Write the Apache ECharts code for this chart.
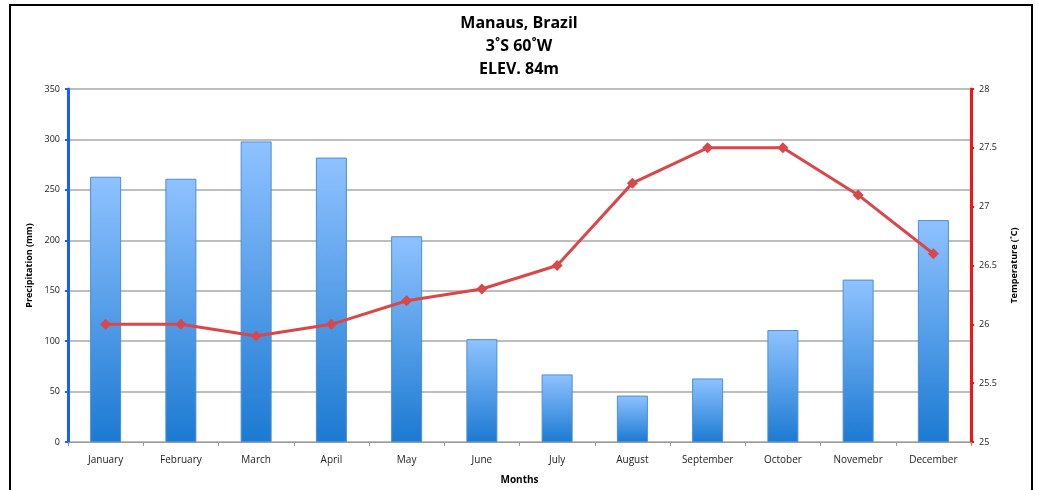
<!DOCTYPE html>
<html>
<head>
<meta charset="utf-8">
<script src="https://cdn.jsdelivr.net/npm/echarts@6/dist/echarts.min.js"></script>
<style>
  html, body { margin: 0; padding: 0; background: #fff; }
  #chart { width: 1038px; height: 490px; }
</style>
</head>
<body>
<div id="chart"></div>
<script>
var months = ["January", "February", "March", "April", "May", "June", "July", "August", "September", "October", "Novemebr", "December"];
var precipitation = [263, 261, 298, 282, 204, 102, 67, 46, 63, 111, 161, 220];
var temperature = [26.0, 26.0, 25.9, 26.0, 26.2, 26.3, 26.5, 27.2, 27.5, 27.5, 27.1, 26.6];
var titleLines = ["Manaus, Brazil", "3˚S 60˚W", "ELEV. 84m"];

var myChart = echarts.init(document.getElementById("chart"));
var labelFont = "'Liberation Sans Narrow', 'Open Sans', sans-serif";

var option = {
  animation: false,
  graphic: [
    {
      type: "rect",
      shape: { x: 10, y: 5, width: 1022, height: 490 },
      style: { fill: "none", stroke: "#000", lineWidth: 2 }
    }
  ],
  title: {
    text: titleLines.join("\n"),
    left: "center",
    top: 7,
    textStyle: {
      fontFamily: labelFont,
      fontWeight: "bold",
      fontSize: 16,
      lineHeight: 23,
      color: "#000"
    }
  },
  grid: { left: 68, right: 67, top: 89, bottom: 48, outerBoundsMode: "none" },
  xAxis: {
    type: "category",
    data: months,
    name: "Months",
    nameLocation: "middle",
    nameGap: 33,
    nameTextStyle: { fontFamily: labelFont, fontWeight: "bold", fontSize: 10, color: "#000" },
    axisLine: { lineStyle: { color: "#999", width: 1 } },
    axisTick: { show: true, length: 4, lineStyle: { color: "#999" } },
    axisLabel: { fontFamily: labelFont, fontSize: 10, color: "#222", margin: 13 }
  },
  yAxis: [
    {
      type: "value",
      min: 0,
      max: 350,
      interval: 50,
      name: "Precipitation (mm)",
      nameLocation: "middle",
      nameGap: 32,
      nameTextStyle: { fontFamily: labelFont, fontWeight: "bold", fontSize: 9, color: "#000" },
      axisLine: { show: true, lineStyle: { color: "#1a5cff", width: 3 } },
      axisTick: { show: true, length: 3, lineStyle: { color: "#1a5cff", width: 2 } },
      axisLabel: { fontFamily: labelFont, fontSize: 9, color: "#222", margin: 8 },
      splitLine: { lineStyle: { color: "#a8a8a8", width: 1.5 } }
    },
    {
      type: "value",
      min: 25,
      max: 28,
      interval: 0.5,
      name: "Temperature (˚C)",
      nameLocation: "middle",
      nameGap: 39,
      nameRotate: 90,
      nameTextStyle: { fontFamily: labelFont, fontWeight: "bold", fontSize: 9, color: "#000" },
      position: "right",
      axisLine: { show: true, lineStyle: { color: "#ff1010", width: 3 } },
      axisTick: { show: true, length: 3, lineStyle: { color: "#ff1010", width: 2 } },
      axisLabel: { fontFamily: labelFont, fontSize: 9, color: "#222", margin: 8 },
      splitLine: { show: false }
    }
  ],
  series: [
    {
      name: "Precipitation",
      type: "bar",
      yAxisIndex: 0,
      barWidth: 31,
      data: precipitation,
      itemStyle: {
        color: new echarts.graphic.LinearGradient(0, 0, 0, 1, [
          { offset: 0, color: "#8fc2ff" },
          { offset: 1, color: "#1c7ad2" }
        ]),
        borderColor: "#4b8fd6",
        borderWidth: 1
      }
    },
    {
      name: "Temperature",
      type: "line",
      yAxisIndex: 1,
      data: temperature,
      symbol: "diamond",
      symbolSize: 11,
      lineStyle: { color: "#d9474a", width: 3 },
      itemStyle: { color: "#d9474a" }
    }
  ]
};

myChart.setOption(option);
</script>
</body>
</html>
